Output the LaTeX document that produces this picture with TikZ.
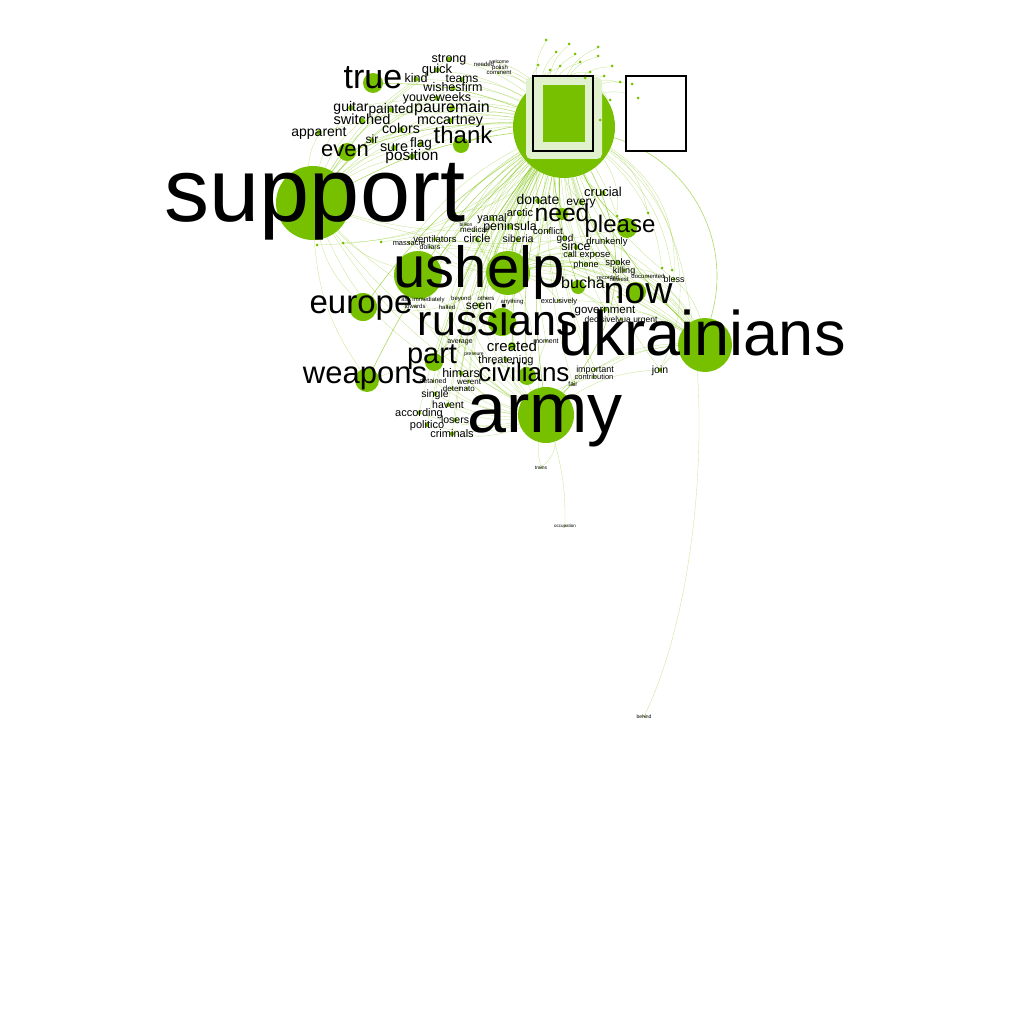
\documentclass[tikz,border=0pt]{standalone}
\usepackage{fontspec}
\setmainfont{Liberation Sans}
\usetikzlibrary{backgrounds}
\definecolor{nodegreen}{RGB}{118,192,0}
\definecolor{halogreen}{RGB}{225,240,205}
\newcommand{\fsz}[1]{\fontsize{#1}{#1}\selectfont}

\begin{document}
\begin{tikzpicture}[x=1pt, y=-1pt]
  \tikzstyle{word}=[inner sep=0pt, anchor=base, text=black]
  \tikzstyle{dot}=[circle, fill=nodegreen, inner sep=0pt]
  \tikzstyle{link}=[draw=nodegreen, line width=0.3pt, opacity=0.45]
  \tikzstyle{mainlink}=[draw=nodegreen, line width=0.6pt, opacity=0.6]

  \useasboundingbox (0,0) rectangle (1024,1024);

  % hub with its frames
  \node[dot, minimum size=102pt] (hub) at (564,127) {};
  \fill[halogreen, rounded corners=5pt] (526,77) rectangle (602,159);
  \node[draw, line width=1.8pt, minimum width=60pt, minimum height=75pt, inner sep=0pt] (frame) at (563,113.5) {};
  \fill[nodegreen] (543,85) rectangle (585,142);
  \node[draw, fill=white, line width=1.8pt, minimum width=60pt, minimum height=75pt, inner sep=0pt] (frame2) at (656,113.5) {};

  % big words: circles
  \node[dot, minimum size=74pt] (c-support) at (313,203) {};
  \node[dot, minimum size=48pt] (c-us) at (418,275) {};
  \node[dot, minimum size=44pt] (c-help) at (508,273) {};
  \node[dot, minimum size=54pt] (c-ukrainians) at (705,345) {};
  \node[dot, minimum size=56pt] (c-army) at (546,415) {};
  \node[dot, minimum size=28pt] (c-russians) at (502,322) {};
  \node[dot, minimum size=20pt] (c-now) at (636,292) {};
  \node[dot, minimum size=28pt] (c-europe) at (363,307) {};
  \node[dot, minimum size=24pt] (c-weapons) at (367,380) {};
  \node[dot, minimum size=18pt] (c-part) at (434,362) {};
  \node[dot, minimum size=18pt] (c-civilians) at (527,376) {};
  \node[dot, minimum size=20pt] (c-true) at (373,83) {};
  \node[dot, minimum size=16pt] (c-thank) at (461,145) {};
  \node[dot, minimum size=18pt] (c-even) at (347,152) {};
  \node[dot, minimum size=20pt] (c-please) at (627,228) {};
  \node[dot, minimum size=12pt] (c-need) at (562,214) {};
  \node[dot, minimum size=14pt] (c-bucha) at (578,287) {};
  \node[dot, minimum size=8pt] (c-created) at (512,346) {};

  % small words
  \foreach \x/\y/\s/\t [count=\i, evaluate=\s as \d using 0.4*\s] in {
      603/197/13/crucial, 581/206/12/every, 538/205/14/donate, 520/217/11/arctic,
      492/222/11/yamal, 510/231/12.5/peninsula, 474/233/8/medical, 548/234/9.5/conflict,
      477/243/11.5/circle, 518/243/10.5/siberia, 565/241/10/god, 576/251/12.5/since,
      607/244/9.5/drunkenly, 570/257/9/call, 595/257/9.5/expose, 586/267/9/phone,
      618/265/9.5/spoke, 624/273/9/killing, 608/279/5.5/recorded, 619/281/6/newest,
      648/278/6/documented, 674/282/9/bless, 435/242/9.5/ventilators, 430/249/7/dollars,
      409/245/7.5/massacre, 605/313/11.5/government, 559/303/7.5/exclusively, 621/322/8.5/decisivelyua urgent,
      595/372/9/important, 594/379/7.5/contribution, 573/386/6.5/fair, 660/373/10.5/join,
      546/343/7/moment, 460/343/7/average, 474/355/5/pressure, 506/363/11/threatening,
      461/377/12.5/himars, 435/397/10.5/single, 448/408/10.5/havent, 419/416/11/according,
      455/423/10.5/losers, 427/428/11/politico, 452/437/11/criminals, 479/309/12/seen,
      461/300/6/beyond, 486/300/6/others, 512/303/6/anything, 423/301/6/ask immediately,
      415/308/6/towards, 447/309/6/halted, 433/383/7/detained, 469/384/8/werent,
      452/391/8/deter, 467/391/8/nato, 449/63/12.5/strong, 437/74/13/quick,
      416/83/12.5/kind, 462/83/12/teams, 453/92/12.5/wishesfirm, 437/102/12.4/youveweeks,
      351/112/14/guitar, 391/114/13.7/painted, 452/113/16/pauremain, 362/125/14.6/switched,
      450/125/14.3/mccartney, 319/137/14/apparent, 401/134/14.2/colors, 372/144/12/sir,
      394/152/14.4/sure, 421/148/13.6/flag, 412/161/15.4/position, 484/67/6/needed,
      499/64/5/welcome, 500/70/6/polish, 499/75/6/comment, 466/226/5/billion,
      541/469/5/trains, 565/527/4.5/occupation, 644/718/5/behind}
  {
    \node[dot, minimum size=\d pt] (c-\i) at ({\x},{\y-0.3*\s}) {};
    \node[word, font=\fsz{\s}] (t-\i) at (\x,\y) {\t};
  }

  % unreadable tiny labels
  \foreach \x/\y [count=\i] in {546/40, 569/44, 598/47, 556/52, 575/54, 598/56,
      580/62, 560/66, 538/65, 612/66, 550/70, 590/72, 620/82, 632/84, 638/98,
      585/78, 604/76, 617/216, 648/213, 618/297, 672/270, 662/268, 455/213,
      317/245, 343/243, 381/242, 600/120, 610/100}
    \node[dot, minimum size=3pt] (d-\i) at (\x,\y) {};

  % big words: texts
  \node[word, font=\fsz{90}] (t-support) at (315,222) {support};
  \node[word, font=\fsz{58}] (t-ushelp) at (479,287) {ushelp};
  \node[word, font=\fsz{63}] (t-ukrainians) at (702,355) {ukrainians};
  \node[word, font=\fsz{70}] (t-army) at (545,432) {army};
  \node[word, font=\fsz{43}] (t-russians) at (498,335) {russians};
  \node[word, font=\fsz{37.6}] (t-now) at (638,303) {now};
  \node[word, font=\fsz{33}] (t-europe) at (361,313) {europe};
  \node[word, font=\fsz{31}] (t-weapons) at (365,383) {weapons};
  \node[word, font=\fsz{29}] (t-part) at (432,363) {part};
  \node[word, font=\fsz{26}] (t-civilians) at (524,381) {civilians};
  \node[word, font=\fsz{34}] (t-true) at (373,89) {true};
  \node[word, font=\fsz{24}] (t-thank) at (463,144) {thank};
  \node[word, font=\fsz{22}] (t-even) at (345,157) {even};
  \node[word, font=\fsz{24}] (t-please) at (620,233) {please};
  \node[word, font=\fsz{24.7}] (t-need) at (562,222) {need};
  \node[word, font=\fsz{16}] (t-bucha) at (583,288) {bucha};
  \node[word, font=\fsz{15}] (t-created) at (512,351) {created};

  % connectors
  \begin{scope}[on background layer]
    \foreach \w in {support,us,help,ukrainians,army,russians,now,europe,weapons,
        part,civilians,true,thank,even,please,need,bucha,created}
      \draw[mainlink] (hub) to[bend right=10] (c-\w);
    \draw[mainlink] (hub) to[bend left=45] (c-ukrainians);
    \draw[mainlink] (hub) to[bend left=35] (c-army);
    \draw[link] (hub) to[bend left=40] (c-32);
    \draw[link] (hub) to[bend left=30] (c-22);
    \foreach \i in {1,...,76}
      \draw[link] (hub) to[bend right=12] (c-\i);
    \foreach \i in {1,...,28}
      \draw[link] (hub) to[bend left=20] (d-\i);
    \foreach \i in {1,...,28}
      \draw[link] (c-help) to[bend left=15] (c-\i);
    \foreach \i in {29,...,54}
      \draw[link] (c-army) to[bend left=15] (c-\i);
    \foreach \i in {55,...,71}
      \draw[link] (c-support) to[bend left=12] (c-\i);
    \foreach \i in {13,...,32}
      \draw[link] (c-ukrainians) to[bend right=15] (c-\i);
    \foreach \w in {us,russians,europe,weapons,part,civilians,army,need,please}
      \draw[link] (c-support) to[bend right=15] (c-\w);
    \foreach \w in {russians,europe,weapons,part,civilians,ukrainians,now,bucha}
      \draw[link] (c-help) to[bend left=20] (c-\w);
    \draw[link] (c-army) to[bend left=25] (c-77);
    \draw[link] (c-army) to[bend right=10] (c-77);
    \draw[link] (c-army) to[bend left=8] (c-78);
    \draw[link] (hub) .. controls (725,210) and (720,560) .. (c-79);
  \end{scope}
\end{tikzpicture}
\end{document}
